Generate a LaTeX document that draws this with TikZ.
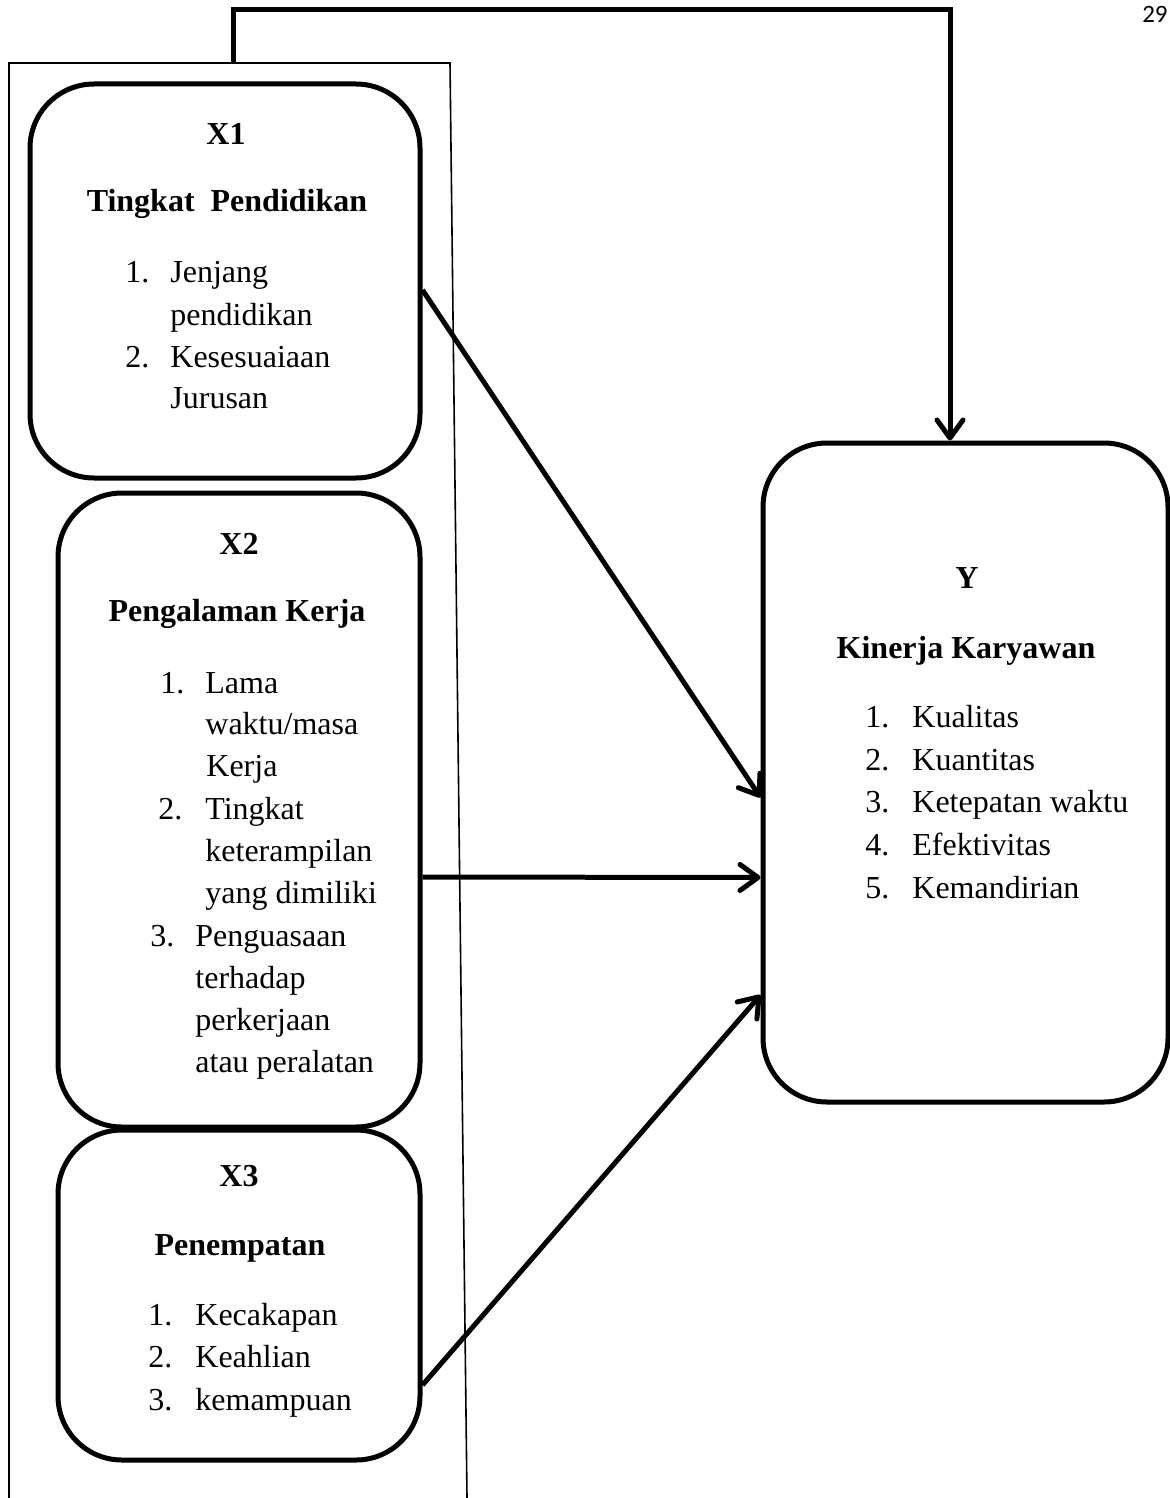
\documentclass[tikz,border=0pt]{standalone}
\usepackage{fontspec}
\setmainfont{Liberation Serif}
\newfontfamily\pagefont{Carlito}
\usepackage{tikz}
\usetikzlibrary{arrows.meta,calc}

\tikzset{
  varbox/.style={draw=black,line width=2.5pt,rounded corners=32pt,inner sep=0pt},
  headtext/.style={anchor=base,inner sep=0pt,font=\fontsize{16}{21}\selectfont\bfseries},
  itemtext/.style={anchor=base west,inner sep=0pt,font=\fontsize{16}{21}\selectfont},
  arrowline/.style={line width=2.5pt,-{Straight Barb[length=9pt,width=13pt,round]}},
  frameline/.style={line width=0.8pt}
}

\begin{document}
\begin{tikzpicture}[x=0.5pt,y=-0.5pt]
\useasboundingbox (0,0) rectangle (1170,1498);
% Page number
\node [anchor=base east,inner sep=0pt,font=\pagefont\fontsize{12.5}{14}\selectfont] (PageNo) at (1168,23) {29};
% Frame round the X boxes
\draw [frameline] (9,1498) -- (9,63) -- (450,63) -- (467,1498);
\coordinate (FrameTop) at (233,63);
\coordinate (TopBend) at (950,10);
% Boxes
\node at (225,281) [varbox,minimum width=195pt,minimum height=197pt] (BoxX1) {};
\node at (239,810) [varbox,minimum width=181pt,minimum height=317pt] (BoxX2) {};
\node at (239,1295) [varbox,minimum width=181pt,minimum height=165pt] (BoxX3) {};
\node at (965.5,772.5) [varbox,minimum width=202.5pt,minimum height=329.5pt] (BoxY) {};
% Box X1 Labels
\node [headtext] at (226,145) {X1};
\node [headtext] at (227,212) {Tingkat\ \ Pendidikan};
\node [itemtext] at (125,283) {1.};
\node [itemtext] at (170,283) {Jenjang};
\node [itemtext] at (170,325) {pendidikan};
\node [itemtext] at (125,367) {2.};
\node [itemtext] at (170,367) {Kesesuaiaan};
\node [itemtext] at (170,408) {Jurusan};
% Box X2 Labels
\node [headtext] at (239,554) {X2};
\node [headtext] at (237,621) {Pengalaman Kerja};
\node [itemtext] at (160,693) {1.};
\node [itemtext] at (205,693) {Lama};
\node [itemtext] at (205,734) {waktu/masa};
\node [itemtext] at (206,776) {Kerja};
\node [itemtext] at (158,819) {2.};
\node [itemtext] at (205,819) {Tingkat};
\node [itemtext] at (205,861) {keterampilan};
\node [itemtext] at (205,903) {yang dimiliki};
\node [itemtext] at (150,946) {3.};
\node [itemtext] at (195,946) {Penguasaan};
\node [itemtext] at (195,988) {terhadap};
\node [itemtext] at (195,1030) {perkerjaan};
\node [itemtext] at (195,1072) {atau peralatan};
% Box X3 Labels
\node [headtext] at (239,1186) {X3};
\node [headtext] at (240,1255) {Penempatan};
\node [itemtext] at (148,1325) {1.};
\node [itemtext] at (195,1325) {Kecakapan};
\node [itemtext] at (148,1367) {2.};
\node [itemtext] at (195,1367) {Keahlian};
\node [itemtext] at (148,1410) {3.};
\node [itemtext] at (195,1410) {kemampuan};
% Box Y Labels
\node [headtext] at (967,588) {Y};
\node [headtext] at (966,658) {Kinerja Karyawan};
\node [itemtext] at (865,727) {1.};
\node [itemtext] at (912,727) {Kualitas};
\node [itemtext] at (865,770) {2.};
\node [itemtext] at (912,770) {Kuantitas};
\node [itemtext] at (865,812) {3.};
\node [itemtext] at (912,812) {Ketepatan waktu};
\node [itemtext] at (865,855) {4.};
\node [itemtext] at (912,855) {Efektivitas};
\node [itemtext] at (865,898) {5.};
\node [itemtext] at (912,898) {Kemandirian};
% Connections
\draw [arrowline] ($(BoxX1.east)+(0,9)$) -- ($(BoxY.west)+(0,25)$);
\draw [arrowline] ($(BoxX2.east)+(0,67)$) -- ($(BoxY.west)+(0,105)$);
\draw [arrowline] ($(BoxX3.east)+(0,90)$) -- ($(BoxY.west)+(0,222.5)$);
\draw [arrowline] (FrameTop) |- (TopBend) -- (TopBend |- BoxY.north);
\end{tikzpicture}
\end{document}
